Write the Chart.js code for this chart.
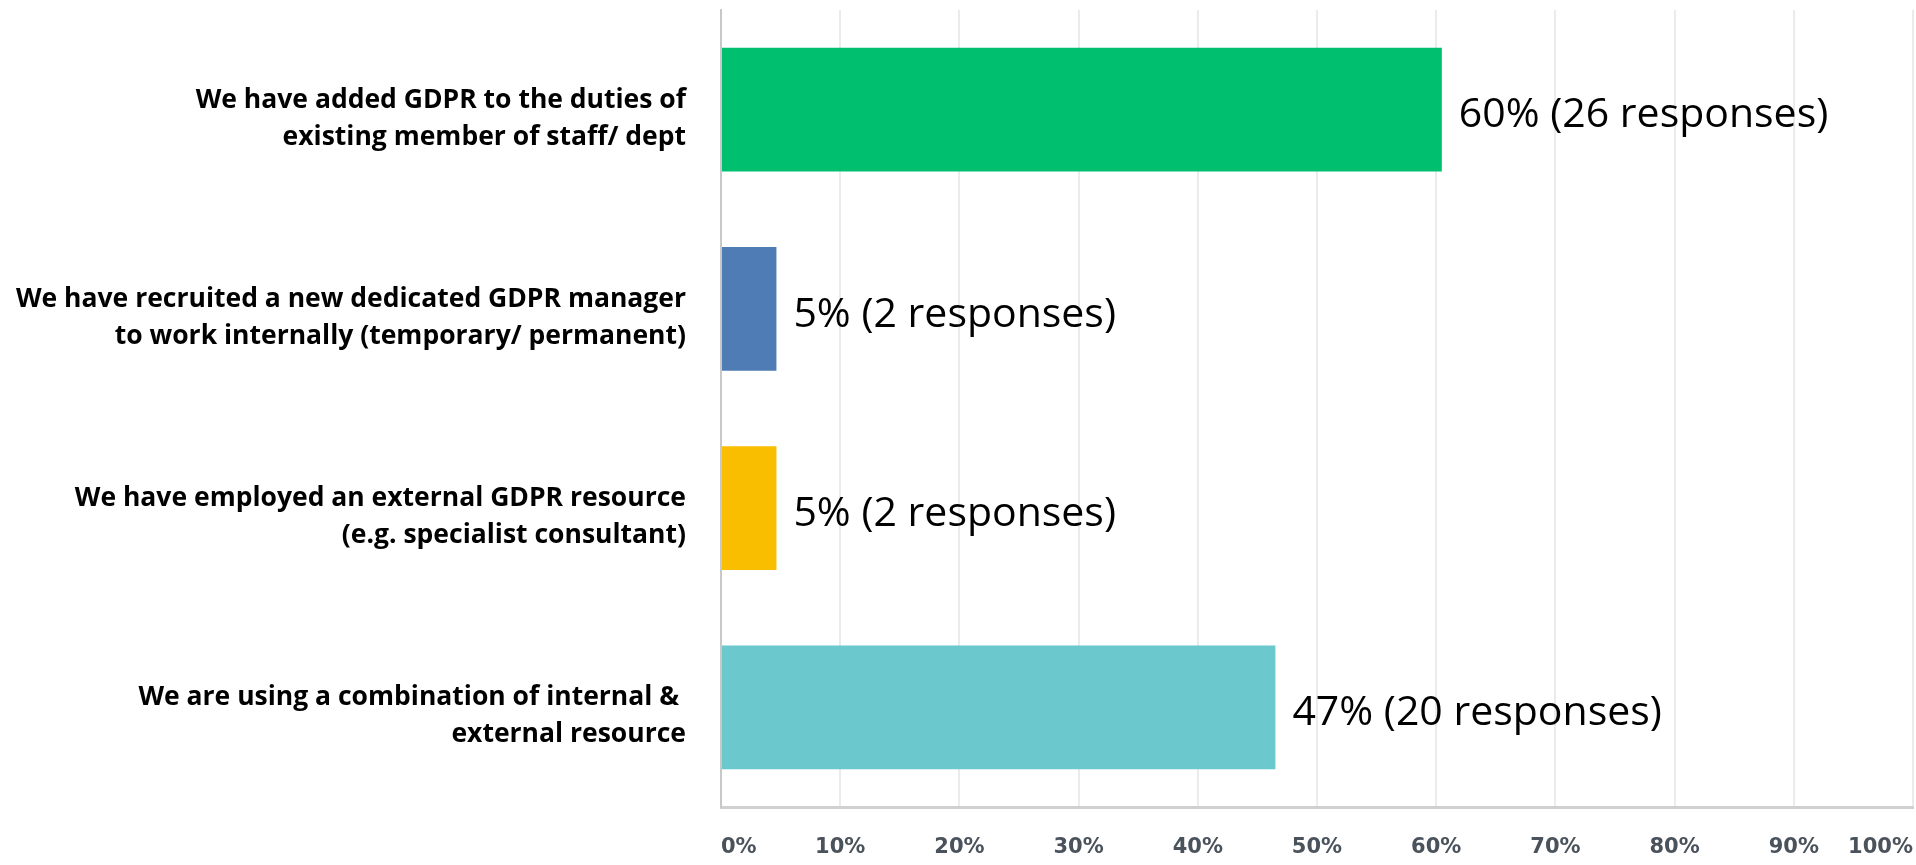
<!DOCTYPE html>
<html>
<head>
<meta charset="utf-8">
<script src="https://cdn.jsdelivr.net/npm/chart.js@4/dist/chart.umd.min.js"></script>
<style>
  html, body { margin: 0; padding: 0; background: #fff; }
  #wrap { width: 1916px; height: 865px; position: relative; }
</style>
</head>
<body>
<div id="wrap"><canvas id="gdpr"></canvas></div>
<script>
const categories = [
  ['We have added GDPR to the duties of', 'existing member of staff/ dept'],
  ['We have recruited a new dedicated GDPR manager', 'to work internally (temporary/ permanent)'],
  ['We have employed an external GDPR resource', '(e.g. specialist consultant)'],
  ['We are using a combination of internal & ', 'external resource']
];
const percentValues = [60.47, 4.65, 4.65, 46.51]; // % of respondents
const responseCounts = [26, 2, 2, 20];
const barColors = ['#00BF6F', '#507CB6', '#F9BE00', '#6BC8CD'];
const tickValues = [0, 10, 20, 30, 40, 50, 60, 70, 80, 90, 100];

// value text to the right of each bar
const valueLabels = {
  id: 'valueLabels',
  afterDatasetsDraw(chart) {
    const ctx = chart.ctx;
    const meta = chart.getDatasetMeta(0);
    ctx.save();
    ctx.font = '41px "Open Sans"';
    ctx.fillStyle = '#000';
    ctx.textAlign = 'left';
    ctx.textBaseline = 'middle';
    meta.data.forEach((bar, i) => {
      const txt = Math.round(percentValues[i]) + '% (' + responseCounts[i] + ' responses)';
      ctx.fillText(txt, bar.x + 17, bar.y + 6);
    });
    ctx.restore();
  }
};

const ctx = document.getElementById('gdpr').getContext('2d');
const chart = new Chart(ctx, {
  type: 'bar',
  data: {
    labels: categories,
    datasets: [{
      data: percentValues,
      backgroundColor: barColors,
      borderWidth: 0,
      categoryPercentage: 1,
      barPercentage: 0.62
    }]
  },
  options: {
    indexAxis: 'y',
    responsive: true,
    maintainAspectRatio: false,
    animation: false,
    layout: { padding: { top: 10, right: 3, left: 0, bottom: 0 } },
    plugins: {
      legend: { display: false },
      tooltip: { enabled: false }
    },
    scales: {
      x: {
        min: 0,
        max: 100,
        afterBuildTicks: (axis) => { axis.ticks = tickValues.map(v => ({ value: v })); },
        afterFit: (axis) => { axis.paddingLeft = 0; axis.paddingRight = 0; axis.height = 58; },
        grid: { color: '#ebebeb', lineWidth: 2, drawTicks: false },
        border: { color: '#d0d0d0', width: 3 },
        ticks: {
          align: 'inner',
          padding: 28,
          color: '#4a525c',
          font: { family: 'DejaVu Sans', size: 21, weight: 'bold' },
          callback: (v) => v + '%'
        }
      },
      y: {
        grid: { display: false, drawTicks: false },
        border: { color: '#c8c8c8', width: 2 },
        afterFit: (axis) => { axis.width = 721; axis.paddingTop = 0; axis.paddingBottom = 0; },
        ticks: {
          padding: 35,
          labelOffset: 9,
          color: '#000',
          font: { family: 'Open Sans', size: 26.5, weight: 'bold', lineHeight: 1.4 }
        }
      }
    }
  },
  plugins: [valueLabels]
});
</script>
</body>
</html>
